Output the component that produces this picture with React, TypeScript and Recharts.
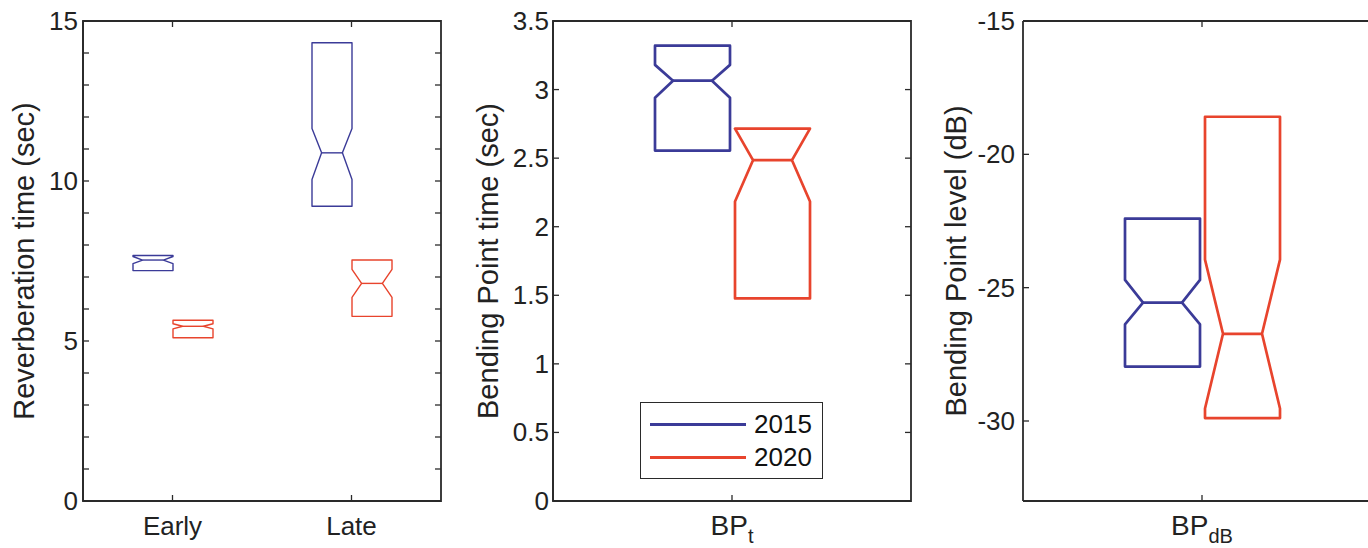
import { ComposedChart, Bar, XAxis, YAxis, ReferenceLine, ReferenceArea, Legend } from 'recharts';

const FONT = '"Liberation Sans", Arial, Helvetica, sans-serif';
const BLUE = '#3b3b98';
const RED = '#e8442d';
const AXIS = '#2a2a2a';

const years = ['2015', '2020'];

// each box is [q1, notch low, median, notch high, q3]
const reverbCategories = ['Early', 'Late'];
const reverb2015 = [
  [7.2, 7.42, 7.53, 7.64, 7.67],
  [9.21, 10.05, 10.88, 11.64, 14.32],
];
const reverb2020 = [
  [5.1, 5.38, 5.46, 5.54, 5.65],
  [5.77, 6.36, 6.8, 7.24, 7.53],
];
const reverbTicks = [0, 1, 2, 3, 4, 5, 6, 7, 8, 9, 10, 11, 12, 13, 14, 15];
const reverbTickLabels = [0, 5, 10, 15];

const bpTimeCategories = ['BP_t'];
const bpTime2015 = [[2.555, 2.94, 3.065, 3.18, 3.32]];
const bpTime2020 = [[1.477, 2.184, 2.485, 2.786, 2.715]];
const bpTimeTicks = [0, 0.5, 1, 1.5, 2, 2.5, 3, 3.5];

const bpLevelCategories = ['BP_dB'];
const bpLevel2015 = [[-27.96, -26.38, -25.56, -24.71, -22.41]];
const bpLevel2020 = [[-29.89, -29.53, -26.73, -23.95, -18.59]];
const bpLevelTicks = [-30, -25, -20, -15];

// plot area size shared by the three panels
const PLOT_TOP = 21;
const PLOT_W = 358;
const PLOT_H = 480;
const TICK_LEN = 6;
const FRAME_W = 1.8;

function NotchBox(props: any) {
  const { x, y, width, height, stats, color, lw } = props;
  if (!stats) return null;
  const [q1, nLo, med, nHiRaw, q3] = stats;
  const top = Math.min(y, y + height);
  const h = Math.abs(height);
  const py = (v: number) => top + ((q3 - v) * h) / (q3 - q1);
  const nHi = Math.min(nHiRaw, q3);
  const nLow = Math.max(nLo, q1);
  const L = x;
  const R = x + width;
  const inset = width * 0.24;
  const pts = [
    [L, py(q3)],
    [R, py(q3)],
    [R, py(nHi)],
    [R - inset, py(med)],
    [R, py(nLow)],
    [R, py(q1)],
    [L, py(q1)],
    [L, py(nLow)],
    [L + inset, py(med)],
    [L, py(nHi)],
  ];
  return (
    <g>
      <polygon
        points={pts.map((p) => p.join(',')).join(' ')}
        fill="none"
        stroke={color}
        strokeWidth={lw}
        strokeLinejoin="round"
      />
      <line x1={L + inset} x2={R - inset} y1={py(med)} y2={py(med)} stroke={color} strokeWidth={lw} />
    </g>
  );
}

function YTick(props: any) {
  const { x, y, payload, labels, gap } = props;
  const show = !labels || labels.includes(payload.value);
  return (
    <g>
      <line x1={x} x2={x + TICK_LEN} y1={y} y2={y} stroke={AXIS} strokeWidth={1.3} />
      <line x1={x + PLOT_W} x2={x + PLOT_W - TICK_LEN} y1={y} y2={y} stroke={AXIS} strokeWidth={1.3} />
      {show && (
        <text x={x - gap} y={y + 9} textAnchor="end" fontSize={26} fill="#222" fontFamily={FONT}>
          {payload.value}
        </text>
      )}
    </g>
  );
}

function XTick(props: any) {
  const { x, y, payload } = props;
  const [main, sub] = String(payload.value).split('_');
  return (
    <g>
      <line x1={x} x2={x} y1={y} y2={y - TICK_LEN} stroke={AXIS} strokeWidth={1.3} />
      <line x1={x} x2={x} y1={y - PLOT_H} y2={y - PLOT_H + TICK_LEN} stroke={AXIS} strokeWidth={1.3} />
      <text x={x} y={y + 34} textAnchor="middle" fontSize={sub ? 28 : 26} fill="#222" fontFamily={FONT}>
        <tspan>{main}</tspan>
        {sub && (
          <tspan dy={8} fontSize={20}>
            {sub}
          </tspan>
        )}
      </text>
    </g>
  );
}

function YLabel(props: any) {
  const { viewBox, text, cx } = props;
  if (!viewBox) return null;
  const px = viewBox.x + cx;
  const py = viewBox.y + viewBox.height / 2;
  return (
    <text
      x={px}
      y={py}
      transform={`rotate(-90, ${px}, ${py})`}
      textAnchor="middle"
      dominantBaseline="central"
      fontSize={29}
      fill="#222"
      fontFamily={FONT}
    >
      {text}
    </text>
  );
}

function LegendBox({ payload }: any) {
  return (
    <div
      style={{
        width: 183,
        height: 77,
        border: `1.8px solid ${AXIS}`,
        boxSizing: 'border-box',
        background: '#fff',
        position: 'relative',
        fontFamily: FONT,
      }}
    >
      {(payload || []).map((e: any, i: number) => (
        <div
          key={e.value}
          style={{ position: 'absolute', left: 9, top: 6 + i * 33, height: 30, display: 'flex', alignItems: 'center' }}
        >
          <div style={{ width: 96, height: 3, background: e.color }} />
          <span style={{ marginLeft: 8, fontSize: 26, color: '#111', lineHeight: '30px' }}>{e.value}</span>
        </div>
      ))}
    </div>
  );
}

interface PanelProps {
  categories: string[];
  s2015: number[][];
  s2020: number[][];
  domain: [number, number];
  ticks: number[];
  tickLabels?: number[];
  yLabel: string;
  yAxisWidth: number;
  labelX: number;
  tickGap: number;
  barSize: number;
  barGap: number;
  lw: number;
  legend?: boolean;
  rightEdge?: boolean;
}

const RIGHT_PAD = 14;

function Panel(p: PanelProps) {
  const rows = p.categories.map((cat, i) => ({
    cat,
    r2015: [p.s2015[i][0], p.s2015[i][4]],
    r2020: [p.s2020[i][0], p.s2020[i][4]],
    s2015: p.s2015[i],
    s2020: p.s2020[i],
  }));
  const width = p.yAxisWidth + PLOT_W + RIGHT_PAD;
  return (
    <ComposedChart
      width={width}
      height={548}
      data={rows}
      margin={{ top: PLOT_TOP, right: RIGHT_PAD, left: 0, bottom: 0 }}
      barGap={p.barGap}
    >
      <XAxis
        dataKey="cat"
        height={548 - PLOT_TOP - PLOT_H}
        axisLine={{ stroke: AXIS, strokeWidth: FRAME_W }}
        tickLine={false}
        tickSize={0}
        tickMargin={0}
        interval={0}
        tick={<XTick />}
      />
      <YAxis
        type="number"
        domain={p.domain}
        ticks={p.ticks}
        allowDataOverflow
        width={p.yAxisWidth}
        axisLine={{ stroke: AXIS, strokeWidth: FRAME_W }}
        tickLine={false}
        tickSize={0}
        tickMargin={0}
        interval={0}
        tick={<YTick labels={p.tickLabels} gap={p.tickGap} />}
        label={<YLabel text={p.yLabel} cx={p.labelX} />}
      />
      {p.rightEdge ? (
        <ReferenceArea y1={p.domain[0]} y2={p.domain[1]} fill="none" stroke={AXIS} strokeWidth={FRAME_W} />
      ) : (
        <ReferenceLine y={p.domain[1]} stroke={AXIS} strokeWidth={FRAME_W} />
      )}
      {years.map((yr) => (
        <Bar
          key={yr}
          name={yr}
          dataKey={`r${yr}`}
          fill={yr === '2015' ? BLUE : RED}
          barSize={p.barSize}
          isAnimationActive={false}
          shape={(sp: any) => (
            <NotchBox {...sp} stats={sp.payload[`s${yr}`]} color={yr === '2015' ? BLUE : RED} lw={p.lw} />
          )}
        />
      ))}
      {p.legend && (
        <Legend
          layout="horizontal"
          verticalAlign="middle"
          align="center"
          content={<LegendBox />}
          wrapperStyle={{ position: 'absolute', left: 180, top: 402, width: 183, height: 77 }}
        />
      )}
    </ComposedChart>
  );
}

export default function App() {
  const slot = (left: number, yw: number, maxW: number) => ({
    position: 'absolute' as const,
    left,
    top: 0,
    width: Math.min(yw + PLOT_W + RIGHT_PAD, maxW),
    height: 548,
    overflow: 'hidden' as const,
  });
  return (
    <div
      style={{
        position: 'fixed',
        left: 0,
        top: 0,
        width: 1368,
        height: 548,
        overflow: 'hidden',
        background: '#fff',
        fontFamily: FONT,
      }}
    >
      <div style={slot(0, 83, 460)}>
        <Panel
          categories={reverbCategories}
          s2015={reverb2015}
          s2020={reverb2020}
          domain={[0, 15]}
          ticks={reverbTicks}
          tickLabels={reverbTickLabels}
          yLabel="Reverberation time (sec)"
          yAxisWidth={83}
          labelX={24}
          tickGap={5}
          barSize={40}
          barGap={0}
          lw={1.4}
          rightEdge
        />
      </div>
      <div style={slot(460, 93, 470)}>
        <Panel
          categories={bpTimeCategories}
          s2015={bpTime2015}
          s2020={bpTime2020}
          domain={[0, 3.5]}
          ticks={bpTimeTicks}
          yLabel="Bending Point time (sec)"
          yAxisWidth={93}
          labelX={28}
          tickGap={4}
          barSize={75}
          barGap={5}
          lw={2.7}
          legend
          rightEdge
        />
      </div>
      <div style={slot(930, 93, 438)}>
        <Panel
          categories={bpLevelCategories}
          s2015={bpLevel2015}
          s2020={bpLevel2020}
          domain={[-33, -15]}
          ticks={bpLevelTicks}
          yLabel="Bending Point level (dB)"
          yAxisWidth={93}
          labelX={26}
          tickGap={8}
          barSize={75}
          barGap={5}
          lw={2.7}
        />
      </div>
    </div>
  );
}
